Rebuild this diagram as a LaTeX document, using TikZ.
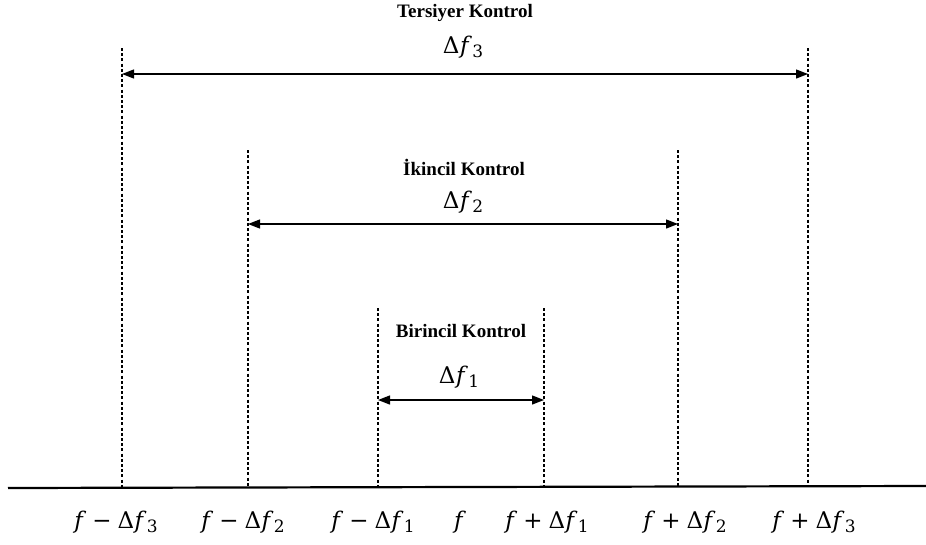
\documentclass[tikz,border=0pt]{standalone}
\usepackage{fontspec}
\setmainfont{Liberation Serif}
\newfontfamily\mathlike{DejaVu Serif}
\usetikzlibrary{arrows.meta}
\newcommand\dfl[1]{Δ\kern0.5pt\textit{f}\kern0.3pt\raisebox{-4.5pt}{\fontsize{17}{18}\selectfont #1}}
\newcommand\opsp{\hspace{6pt}}
\begin{document}
\begin{tikzpicture}[x=1pt,y=-1pt,
  guide/.style={line width=1.8pt,dash pattern=on 3pt off 2.2pt},
  span/.style={line width=1.3pt,{Triangle[length=12pt,width=9pt]}-{Triangle[length=12pt,width=9pt]}},
  title/.style={font=\fontsize{19}{21}\selectfont\bfseries,inner sep=0pt,anchor=base},
  dlab/.style={font=\mathlike\fontsize{23}{26}\selectfont,inner sep=0pt,anchor=base},
  blab/.style={font=\mathlike\fontsize{23}{26}\selectfont,inner sep=0pt,anchor=base}]
\useasboundingbox (0,0) rectangle (926,544);
% axis
\coordinate (axL) at (8,488);
\coordinate (axR) at (926,486);
\draw[line width=2.2pt] (axL) -- (axR);
% guide tops and bottoms
\coordinate (m3t) at (122,48);  \coordinate (m3b) at (122,487);
\coordinate (m2t) at (248,150); \coordinate (m2b) at (248,487);
\coordinate (m1t) at (378,308); \coordinate (m1b) at (378,487);
\coordinate (p1t) at (544,308); \coordinate (p1b) at (544,487);
\coordinate (p2t) at (678,150); \coordinate (p2b) at (678,487);
\coordinate (p3t) at (808,48);  \coordinate (p3b) at (808,487);
\foreach \n in {m3,m2,m1,p1,p2,p3} \draw[guide] (\n t) -- (\n b);
% spans
\coordinate (a3l) at (122,74); \coordinate (a3r) at (808,74);
\coordinate (a2l) at (248,224); \coordinate (a2r) at (678,224);
\coordinate (a1l) at (378,400); \coordinate (a1r) at (544,400);
\draw[span] (a3l) -- (a3r);
\draw[span] (a2l) -- (a2r);
\draw[span] (a1l) -- (a1r);
% titles
\node[title] (t3) at (465,17) {Tersiyer Kontrol};
\node[title] (t2) at (464,175) {İkincil Kontrol};
\node[title] (t1) at (461,337) {Birincil Kontrol};
% delta labels
\node[dlab] (d3) at (463,53) {\dfl{3}};
\node[dlab] (d2) at (463,208) {\dfl{2}};
\node[dlab] (d1) at (459,383) {\dfl{1}};
% bottom labels
\node[blab] (b1) at (116,528) {\textit{f}\opsp−\opsp\dfl{3}};
\node[blab] (b2) at (243,528) {\textit{f}\opsp−\opsp\dfl{2}};
\node[blab] (b3) at (373,528) {\textit{f}\opsp−\opsp\dfl{1}};
\node[blab] (b4) at (460,528) {\textit{f}};
\node[blab] (b5) at (547,528) {\textit{f}\opsp+\opsp\dfl{1}};
\node[blab] (b6) at (685,528) {\textit{f}\opsp+\opsp\dfl{2}};
\node[blab] (b7) at (814,528) {\textit{f}\opsp+\opsp\dfl{3}};
\end{tikzpicture}
\end{document}
